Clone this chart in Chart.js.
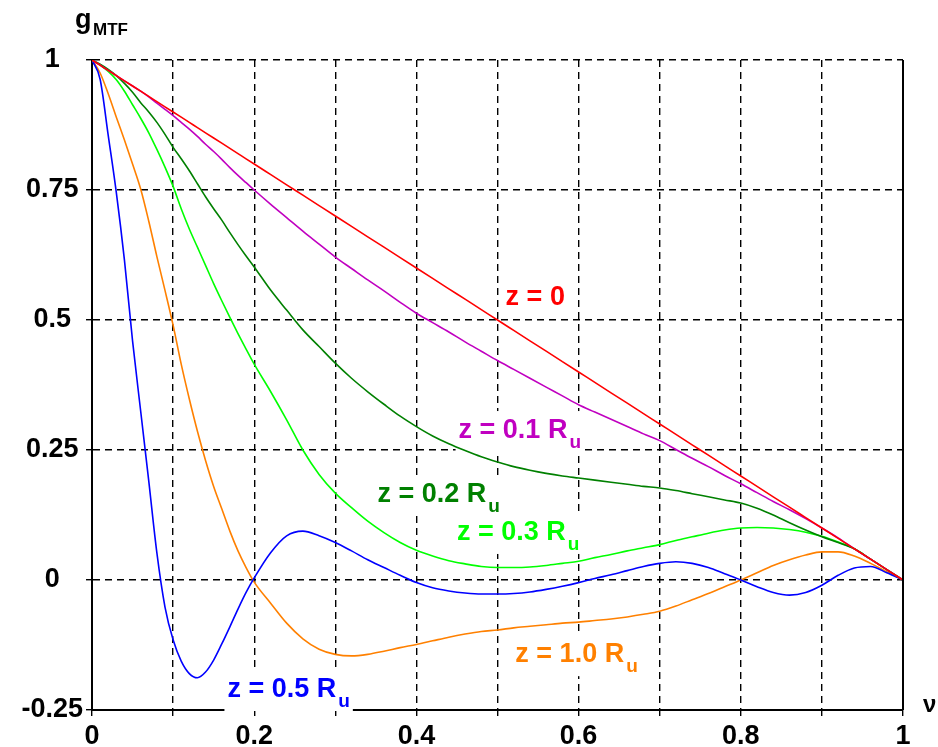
<!DOCTYPE html>
<html>
<head>
<meta charset="utf-8">
<title>MTF</title>
<script src="https://cdn.jsdelivr.net/npm/chart.js@4.4.1/dist/chart.umd.min.js"></script>
<style>
  html, body { margin: 0; padding: 0; background: #fff; }
  canvas { display: block; }
</style>
</head>
<body>
<canvas id="mtfChart" width="938" height="747"></canvas>
<script>
// spatial frequency (normalised to cut-off)
const nu = [
  0, 0.01, 0.02, 0.03, 0.04, 0.05, 0.06, 0.07, 0.08, 0.09, 0.10,
  0.11, 0.12, 0.13, 0.14, 0.15, 0.16, 0.17, 0.18, 0.19, 0.20,
  0.22, 0.24, 0.26, 0.28, 0.30, 0.32, 0.34, 0.36, 0.38, 0.40,
  0.42, 0.44, 0.46, 0.48, 0.50, 0.52, 0.54, 0.56, 0.58, 0.60,
  0.62, 0.64, 0.66, 0.68, 0.70, 0.72, 0.74, 0.76, 0.78, 0.80,
  0.82, 0.84, 0.86, 0.88, 0.90, 0.92, 0.94, 0.96, 0.98, 1.00
];

// g_MTF for each defocus z
const mtfZ0 = [
  1, 0.99, 0.98, 0.97, 0.96, 0.95, 0.94, 0.93, 0.92, 0.91, 0.90,
  0.89, 0.88, 0.87, 0.86, 0.85, 0.84, 0.83, 0.82, 0.81, 0.80,
  0.78, 0.76, 0.74, 0.72, 0.70, 0.68, 0.66, 0.64, 0.62, 0.60,
  0.58, 0.56, 0.54, 0.52, 0.50, 0.48, 0.46, 0.44, 0.42, 0.40,
  0.38, 0.36, 0.34, 0.32, 0.30, 0.28, 0.26, 0.24, 0.22, 0.20,
  0.18, 0.16, 0.14, 0.12, 0.10, 0.08, 0.06, 0.04, 0.02, 0
];
const mtfZ01 = [
  1, 0.99, 0.98, 0.97, 0.96, 0.95, 0.94, 0.929, 0.917, 0.905, 0.893,
  0.88, 0.867, 0.853, 0.838, 0.824, 0.809, 0.793, 0.778, 0.764, 0.75,
  0.723, 0.697, 0.671, 0.646, 0.621, 0.599, 0.577, 0.556, 0.534, 0.513,
  0.495, 0.477, 0.458, 0.44, 0.422, 0.405, 0.388, 0.371, 0.354, 0.337,
  0.323, 0.309, 0.295, 0.281, 0.268, 0.251, 0.234, 0.218, 0.201, 0.185,
  0.168, 0.151, 0.135, 0.118, 0.10, 0.081, 0.06, 0.04, 0.02, 0
];
const mtfZ02 = [
  1, 0.992, 0.982, 0.97, 0.955, 0.938, 0.918, 0.90, 0.88, 0.857, 0.832,
  0.81, 0.787, 0.762, 0.737, 0.714, 0.692, 0.668, 0.645, 0.623, 0.602,
  0.558, 0.519, 0.481, 0.449, 0.417, 0.388, 0.362, 0.338, 0.315, 0.295,
  0.277, 0.262, 0.249, 0.237, 0.227, 0.218, 0.211, 0.205, 0.20, 0.196,
  0.192, 0.188, 0.184, 0.18, 0.177, 0.172, 0.166, 0.16, 0.154, 0.148,
  0.138, 0.125, 0.11, 0.096, 0.083, 0.072, 0.06, 0.04, 0.02, 0
];
const mtfZ03 = [
  1, 0.99, 0.978, 0.962, 0.94, 0.914, 0.888, 0.86, 0.828, 0.794, 0.757,
  0.714, 0.675, 0.64, 0.605, 0.57, 0.537, 0.505, 0.474, 0.444, 0.415,
  0.363, 0.308, 0.25, 0.203, 0.167, 0.139, 0.113, 0.091, 0.072, 0.057,
  0.046, 0.037, 0.031, 0.026, 0.024, 0.024, 0.025, 0.028, 0.032, 0.036,
  0.043, 0.049, 0.056, 0.062, 0.068, 0.076, 0.083, 0.09, 0.096, 0.10,
  0.101, 0.10, 0.097, 0.092, 0.084, 0.073, 0.06, 0.04, 0.02, 0
];
const mtfZ05 = [
  1, 0.963, 0.855, 0.745, 0.615, 0.46, 0.325, 0.19, 0.052, -0.052, -0.115,
  -0.156, -0.18, -0.188, -0.177, -0.154, -0.123, -0.09, -0.056, -0.024, 0.004,
  0.052, 0.085, 0.094, 0.085, 0.072, 0.056, 0.039, 0.024, 0.009, -0.005,
  -0.015, -0.021, -0.025, -0.027, -0.027, -0.026, -0.023, -0.018, -0.012, -0.005,
  0.003, 0.01, 0.018, 0.026, 0.032, 0.035, 0.032, 0.024, 0.012, 0,
  -0.013, -0.024, -0.029, -0.024, -0.01, 0.009, 0.023, 0.026, 0.014, 0
];
const mtfZ10 = [
  1, 0.975, 0.935, 0.89, 0.846, 0.8, 0.752, 0.69, 0.622, 0.557, 0.49,
  0.415, 0.348, 0.286, 0.23, 0.18, 0.137, 0.094, 0.056, 0.024, -0.004,
  -0.044, -0.083, -0.113, -0.133, -0.143, -0.146, -0.143, -0.137, -0.13, -0.124,
  -0.117, -0.11, -0.104, -0.099, -0.096, -0.092, -0.089, -0.086, -0.083, -0.081,
  -0.078, -0.075, -0.071, -0.066, -0.06, -0.05, -0.038, -0.026, -0.013, 0,
  0.014, 0.028, 0.039, 0.048, 0.054, 0.054, 0.046, 0.032, 0.016, 0
];

const xGrid = [0, 0.1, 0.2, 0.3, 0.4, 0.5, 0.6, 0.7, 0.8, 0.9, 1];
const xTickLabels = ["0", "", "0.2", "", "0.4", "", "0.6", "", "0.8", "", "1"];
const yGrid = [-0.25, 0, 0.25, 0.5, 0.75, 1];
const yTickLabels = ["-0.25", "0", "0.25", "0.5", "0.75", "1"];

const curveNames = ["z = 0", "z = 0.1 R", "z = 0.2 R", "z = 0.3 R", "z = 0.5 R", "z = 1.0 R"];
const curveSubs = ["", "u", "u", "u", "u", "u"];
const curveColors = ["#ff0000", "#c000c0", "#008000", "#00ff00", "#0000ff", "#ff8000"];
const curveValues = [mtfZ0, mtfZ01, mtfZ02, mtfZ03, mtfZ05, mtfZ10];

const FONT = '"Liberation Sans", Arial, Helvetica, sans-serif';

// curve captions, anchored in data coordinates (left edge / baseline)
const labelPlugin = {
  id: "curveLabels",
  beforeDatasetsDraw(chart, args, opts) {
    const { ctx } = chart;
    const x = chart.scales.x, y = chart.scales.y;
    ctx.save();
    ctx.textAlign = "left";
    ctx.textBaseline = "alphabetic";
    opts.anchors.forEach((a, i) => {
      const px = x.getPixelForValue(a[0]);
      const py = y.getPixelForValue(a[1]);
      ctx.font = "bold 27px " + FONT;
      const w1 = ctx.measureText(curveNames[i]).width;
      ctx.font = "bold 19px " + FONT;
      const w2 = curveSubs[i] ? ctx.measureText(curveSubs[i]).width + 2 : 0;
      ctx.fillStyle = "#fff";
      ctx.fillRect(px - 3, py - 27, w1 + w2 + 6, curveSubs[i] ? 41 : 33);
      ctx.fillStyle = curveColors[i];
      ctx.font = "bold 27px " + FONT;
      ctx.fillText(curveNames[i], px, py);
      if (curveSubs[i]) {
        ctx.font = "bold 19px " + FONT;
        ctx.fillText(curveSubs[i], px + w1 + 2, py + 10);
      }
    });
    ctx.restore();
  },
  afterDraw(chart) {
    const { ctx, chartArea } = chart;
    ctx.save();
    // solid frame on the right
    ctx.strokeStyle = "#000";
    ctx.lineWidth = 2;
    ctx.beginPath();
    ctx.moveTo(chartArea.right, chartArea.top);
    ctx.lineTo(chartArea.right, chartArea.bottom);
    ctx.stroke();
    // axis titles
    ctx.fillStyle = "#000";
    ctx.textAlign = "left";
    ctx.textBaseline = "alphabetic";
    ctx.font = "bold 27px " + FONT;
    ctx.fillText("g", 75, 28);
    ctx.font = "bold 17px " + FONT;
    ctx.fillText("MTF", 93, 35);
    ctx.font = "bold 24px " + FONT;
    ctx.fillText("ν", 923, 712);
    ctx.restore();
  }
};

const datasets = curveValues.map((vals, i) => ({
  label: curveNames[i] + curveSubs[i],
  data: nu.map((v, k) => ({ x: v, y: vals[k] })),
  borderColor: curveColors[i],
  borderWidth: 1.6,
  pointRadius: 0,
  fill: false,
  cubicInterpolationMode: "monotone"
}));

const ctx = document.getElementById("mtfChart").getContext("2d");
new Chart(ctx, {
  type: "line",
  data: { datasets: datasets },
  plugins: [labelPlugin],
  options: {
    responsive: false,
    animation: false,
    devicePixelRatio: 1,
    layout: { padding: { top: 60, right: 35, left: 0, bottom: 0 } },
    plugins: {
      legend: { display: false },
      tooltip: { enabled: false },
      curveLabels: {
        anchors: [
          [0.51, 0.529],
          [0.452, 0.273],
          [0.352, 0.15],
          [0.45, 0.077],
          [0.167, -0.225],
          [0.522, -0.158]
        ]
      }
    },
    scales: {
      x: {
        type: "linear",
        min: 0,
        max: 1,
        afterBuildTicks: (s) => { s.ticks = xGrid.map((v) => ({ value: v })); },
        afterFit: (s) => { s.height = 37; },
        ticks: {
          callback: (v, i) => xTickLabels[i],
          autoSkip: false,
          maxRotation: 0,
          padding: 4,
          color: "#000",
          font: { family: FONT, size: 27, weight: "bold" }
        },
        grid: { color: "#000", lineWidth: 1.4, tickLength: 6, tickColor: "#000" },
        border: { color: "#000", width: 2, dash: [7, 5] }
      },
      y: {
        type: "linear",
        min: -0.25,
        max: 1,
        afterBuildTicks: (s) => { s.ticks = yGrid.map((v) => ({ value: v })); },
        afterFit: (s) => { s.width = 92; },
        ticks: {
          callback: (v, i) => yTickLabels[i],
          autoSkip: false,
          crossAlign: "center",
          padding: 3,
          color: "#000",
          font: { family: FONT, size: 27, weight: "bold" }
        },
        grid: { color: "#000", lineWidth: 1.4, tickLength: 6, tickColor: "#000" },
        border: { color: "#000", width: 2, dash: [7, 5] }
      }
    }
  }
});
</script>
</body>
</html>
